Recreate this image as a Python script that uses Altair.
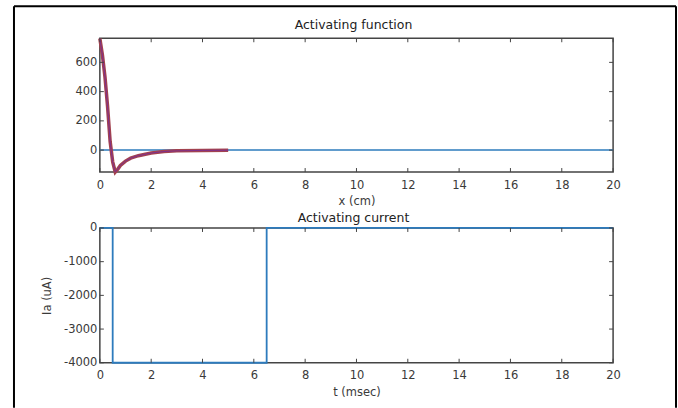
import altair as alt
import pandas as pd

# ---- data ----
x_cm = [0, 0.1, 0.2, 0.3, 0.4, 0.5, 0.6, 0.7, 0.8, 1.0, 1.2, 1.5, 2.0, 2.5, 3.0, 4.0, 5.0]
af_vals = [763, 650, 500, 300, 60, -80, -150, -130, -105, -75, -55, -38, -20, -10, -5, -2, -1]
zero_x = [0, 20]
zero_y = [0, 0]
t_ms = [0, 0.5, 0.5, 6.5, 6.5, 20]
ia_vals = [0, 0, -4000, -4000, 0, 0]
x_ticks = list(range(0, 21, 2))
af_ticks = [0, 200, 400, 600]
ia_ticks = [-4000, -3000, -2000, -1000, 0]
titles = ["Activating function", "Activating current"]
x_titles = ["x (cm)", "t (msec)"]
y_title_bottom = "Ia (uA)"

W = 514
H1 = 134
H2 = 135
FONT = "DejaVu Sans"
BLUE = "#2d7bbd"
RED = "#a2424f"
PURPLE = "#7e2f8e"
AX = "#444444"
LBL = "#3a3a3a"

af_df = pd.DataFrame({"x": x_cm, "v": af_vals})
zero_df = pd.DataFrame({"x": zero_x, "v": zero_y})
cur_df = pd.DataFrame({"x": t_ms, "v": ia_vals, "o": list(range(len(t_ms)))})
xt_df = pd.DataFrame({"x": x_ticks})
yt1_df = pd.DataFrame({"v": af_ticks})
yt2_df = pd.DataFrame({"v": ia_ticks})
one = pd.DataFrame({"a": [0]})

xs = alt.Scale(domain=[0, 20], nice=False, zero=False)
ys1 = alt.Scale(domain=[-150, 765], nice=False, zero=False)
ys2 = alt.Scale(domain=[-4000, 0], nice=False, zero=False)


def xaxis(title):
    return alt.Axis(values=x_ticks, tickSize=0, labelPadding=7, labelFlush=False,
                    labelOverlap=False, labelExpr="'' + datum.value",
                    title=title, titlePadding=5, domain=False, grid=False)


def yaxis(vals, **kw):
    return alt.Axis(values=vals, tickSize=0, labelPadding=3, labelOverlap=False,
                    labelExpr="'' + datum.value", domain=False, grid=False, **kw)


def inner_ticks(H, yticks_df, ys):
    TL = 4
    bx = alt.Chart(xt_df).mark_rule(color=AX, strokeWidth=1).encode(
        x=alt.X("x:Q", scale=xs, axis=None), y=alt.value(H), y2=alt.value(H - TL))
    tx = alt.Chart(xt_df).mark_rule(color=AX, strokeWidth=1).encode(
        x=alt.X("x:Q", scale=xs, axis=None), y=alt.value(0), y2=alt.value(TL))
    ly = alt.Chart(yticks_df).mark_rule(color=AX, strokeWidth=1).encode(
        y=alt.Y("v:Q", scale=ys, axis=None), x=alt.value(0), x2=alt.value(TL))
    ry = alt.Chart(yticks_df).mark_rule(color=AX, strokeWidth=1).encode(
        y=alt.Y("v:Q", scale=ys, axis=None), x=alt.value(W), x2=alt.value(W - TL))
    return [bx, tx, ly, ry]


def panel_title(text, dy):
    return alt.Chart(one).mark_text(text=text, font=FONT, fontSize=12.5, color="#222222",
                                    baseline="alphabetic", align="center").encode(
        x=alt.value(W / 2 - 3), y=alt.value(dy))


# ---- top panel ----
zero_line = alt.Chart(zero_df).mark_line(color=BLUE, strokeWidth=1.5).encode(
    x=alt.X("x:Q", scale=xs, axis=xaxis(x_titles[0])),
    y=alt.Y("v:Q", scale=ys1, axis=yaxis(af_ticks, title=None)))
af_thick = alt.Chart(af_df).mark_line(color=RED, strokeWidth=3.5).encode(
    x=alt.X("x:Q", scale=xs, axis=None), y=alt.Y("v:Q", scale=ys1, axis=None))
af_thin = alt.Chart(af_df).mark_line(color=PURPLE, strokeWidth=1).encode(
    x=alt.X("x:Q", scale=xs, axis=None), y=alt.Y("v:Q", scale=ys1, axis=None))

# decorative outer frame of the figure
frame_l = alt.Chart(one).mark_rule(color="black", strokeWidth=2).encode(
    x=alt.value(-86), y=alt.value(-32), y2=alt.value(370))
frame_t = alt.Chart(one).mark_rule(color="black", strokeWidth=2).encode(
    x=alt.value(-86), x2=alt.value(577), y=alt.value(-32))
frame_r = alt.Chart(one).mark_rule(color="black", strokeWidth=2).encode(
    x=alt.value(577), y=alt.value(-32), y2=alt.value(370))

top = alt.layer(zero_line, af_thick, af_thin, *inner_ticks(H1, yt1_df, ys1),
                panel_title(titles[0], -9),
                frame_l, frame_t, frame_r).resolve_axis(
    x="independent", y="independent").properties(width=W, height=H1)

# ---- bottom panel ----
cur_line = alt.Chart(cur_df).mark_line(color=BLUE, strokeWidth=1.8).encode(
    x=alt.X("x:Q", scale=xs, axis=xaxis(x_titles[1])),
    y=alt.Y("v:Q", scale=ys2, axis=yaxis(ia_ticks, title=y_title_bottom, titleX=-52,
                                         titleY=H2 / 2, titleBaseline="middle",
                                         titleAlign="center")),
    order="o:Q")

bottom = alt.layer(cur_line, *inner_ticks(H2, yt2_df, ys2),
                   panel_title(titles[1], -6)).resolve_axis(
    x="independent", y="independent").properties(width=W, height=H2)

chart = alt.vconcat(top, bottom, spacing=56, bounds="flush").properties(
    padding={"left": 12, "top": 4, "right": 0, "bottom": 0}
).configure_view(
    stroke=AX, strokeWidth=1.5
).configure_axis(
    labelFont=FONT, labelFontSize=11.5, labelColor=LBL,
    titleFont=FONT, titleFontSize=11.5, titleFontWeight="normal", titleColor=LBL
)

chart.save("out.html", embed_options={"renderer": "svg", "actions": False})
